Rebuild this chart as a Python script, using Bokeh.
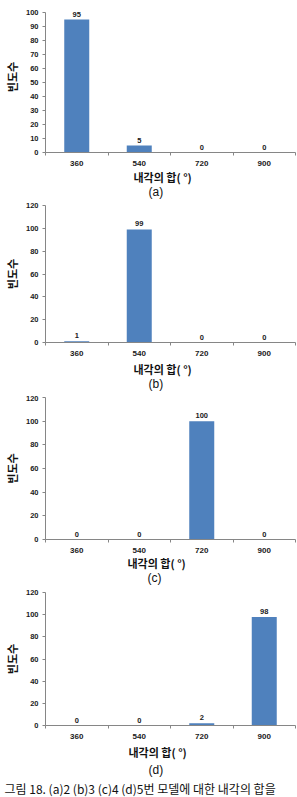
from bokeh.plotting import figure
from bokeh.layouts import column
from bokeh.models import Range1d, FixedTicker, Title, ColumnDataSource, LabelSet
from bokeh.core.properties import value
from bokeh.embed import file_html
from bokeh.resources import INLINE
import numpy as np

categories = ["360", "540", "720", "900"]
counts_a = [95, 5, 0, 0]
counts_b = [1, 99, 0, 0]
counts_c = [0, 0, 100, 0]
counts_d = [0, 0, 2, 98]
panel_labels = ["(a)", "(b)", "(c)", "(d)"]
y_max = [100, 120, 120, 120]
y_step = [10, 20, 20, 20]
x_title = "내각의 합( °)"
y_title = "빈도수"
caption = "그림 18. (a)2 (b)3 (c)4 (d)5번 모델에 대한 내각의 합을"

BAR = "#4F81BD"
AXIS = "#868686"
NUM_FONT = "Liberation Sans"
KR_FONT = "Noto Sans CJK KR"
TXT = "#1a1a1a"

# per panel: height, top border, bottom border, frame height up to axis top, headroom px
layouts = [(200, 1, 48, 140, 11), (195, 5, 53, 137, 0), (192, 2, 48, 142, 0), (210, 5, 66, 139, 0)]
xt_standoff = [-4, 1, -5, 0]
pl_standoff = [1, -6, 1, 2]
cap_standoff = 1
xt_offset = [88, 88, 82, 83]
pl_offset = [103, 103, 102, 103]

def make_panel(i, counts):
    h, top, bot, fh, extra = layouts[i]
    xs = np.arange(len(categories)) + 0.5
    y_end = y_max[i] * (1 + extra / fh)
    p = figure(width=297, height=h, output_backend="svg", toolbar_location=None,
               x_range=Range1d(0, len(categories)), y_range=Range1d(0, y_end),
               min_border_left=40, min_border_right=2, min_border_top=top,
               min_border_bottom=bot)
    p.outline_line_color = None
    p.xgrid.visible = False
    p.ygrid.visible = False
    p.background_fill_color = "white"
    p.border_fill_color = "white"
    src = ColumnDataSource(dict(x=xs, top=counts, lab=[str(c) for c in counts]))
    p.vbar(x="x", top="top", width=0.4, source=src, fill_color=BAR, line_color=None)
    labels = LabelSet(x="x", y="top", text="lab", source=src, text_align="center",
                      text_baseline="bottom", y_offset=3, text_font=value(NUM_FONT),
                      text_font_size=value("7.5px"), text_font_style="bold", text_color=TXT)
    p.add_layout(labels)

    xa = p.xaxis[0]
    xa.ticker = FixedTicker(ticks=list(xs), minor_ticks=list(range(len(categories) + 1)))
    xa.major_label_overrides = {float(x): c for x, c in zip(xs, categories)}
    xa.major_tick_out = 0
    xa.major_tick_in = 0
    xa.minor_tick_out = 3
    xa.minor_tick_in = 0
    xa.minor_tick_line_color = AXIS
    xa.axis_line_color = AXIS
    xa.major_label_standoff = 5
    xa.major_label_text_font = NUM_FONT
    xa.major_label_text_font_size = "8px"
    xa.major_label_text_font_style = "bold"
    xa.major_label_text_color = TXT

    ya = p.yaxis[0]
    ya.ticker = FixedTicker(ticks=list(range(0, y_max[i] + 1, y_step[i])))
    ya.bounds = (0, y_max[i])
    ya.major_tick_out = 3
    ya.major_tick_in = 0
    ya.minor_tick_out = 0
    ya.minor_tick_in = 0
    ya.major_tick_line_color = AXIS
    ya.axis_line_color = AXIS
    ya.major_label_standoff = 4
    ya.major_label_text_font = NUM_FONT
    ya.major_label_text_font_size = "7.5px"
    ya.major_label_text_font_style = "bold"
    ya.major_label_text_color = TXT
    ya.axis_label = y_title
    ya.axis_label_text_font = KR_FONT
    ya.axis_label_text_font_size = "11px"
    ya.axis_label_text_font_style = "bold"
    ya.axis_label_text_color = "#111111"
    ya.axis_label_standoff = 3

    t1 = Title(text=x_title, align="left", offset=xt_offset[i], standoff=xt_standoff[i],
               text_font=KR_FONT, text_font_size="11px", text_font_style="bold",
               text_color="#111111")
    p.add_layout(t1, "below")
    t2 = Title(text=panel_labels[i], align="left", offset=pl_offset[i], standoff=pl_standoff[i],
               text_font="Liberation Sans", text_font_size="12px",
               text_font_style="normal", text_color="#111111")
    p.add_layout(t2, "below")
    if i == 3:
        t3 = Title(text=caption, align="left", offset=-41, standoff=cap_standoff,
                   text_font=KR_FONT, text_font_size="12px",
                   text_font_style="normal", text_color="#111111")
        p.add_layout(t3, "below")
    return p

panels = [make_panel(i, c) for i, c in enumerate([counts_a, counts_b, counts_c, counts_d])]
layout = column(*panels, spacing=0)
open("out.html", "w").write(file_html(layout, INLINE))
